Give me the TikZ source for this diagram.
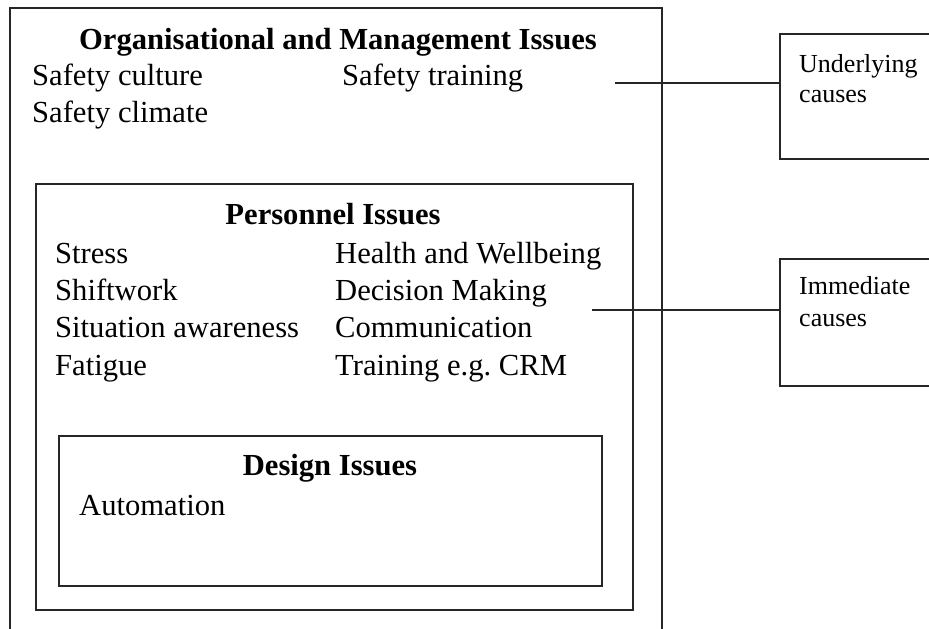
\documentclass[tikz,border=0pt]{standalone}
\usepackage{fontspec}
\setmainfont{Liberation Serif}
\frenchspacing
\begin{document}
\begin{tikzpicture}[x=1pt,y=-1pt,
  frame/.style={draw=black!85,line width=2pt},
  link/.style={draw=black!85,line width=1.8pt},
  head/.style={anchor=base,inner sep=0pt,font=\fontsize{30.6}{36}\selectfont\bfseries},
  item/.style={anchor=base west,inner sep=0pt,font=\fontsize{30.6}{36}\selectfont},
  small/.style={anchor=base west,inner sep=0pt,font=\fontsize{26}{32}\selectfont}]
\useasboundingbox (0,0) rectangle (929,629);
% boxes
\draw[frame] (10,640) -- (10,8) -- (662,8) -- (662,640);
\node[draw=black!85,line width=2pt,minimum width=597pt,minimum height=426pt,anchor=north west,inner sep=0pt] (pers) at (35,183) {};
\node[draw=black!85,line width=2pt,minimum width=543pt,minimum height=150pt,anchor=north west,inner sep=0pt] (des) at (58,435) {};
\node[draw=black!85,line width=2pt,minimum width=180pt,minimum height=125pt,anchor=north west,inner sep=0pt] (under) at (779,33) {};
\node[draw=black!85,line width=2pt,minimum width=180pt,minimum height=127pt,anchor=north west,inner sep=0pt] (imm) at (779,258) {};
% texts
\node[head] (org) at (338,49) {Organisational and Management Issues};
\node[item] (sc) at (32,85) {Safety culture};
\node[item] (st) at (342,85) {Safety training};
\node[item] (scl) at (32,122) {Safety climate};
\node[head] (pi) at (333,224) {Personnel Issues};
\node[item] (s1) at (55,263) {Stress};
\node[item] (s2) at (55,300) {Shiftwork};
\node[item] (s3) at (55,337) {Situation awareness};
\node[item] (s4) at (55,375) {Fatigue};
\node[item] (h1) at (335,263) {Health and Wellbeing};
\node[item] (h2) at (335,300) {Decision Making};
\node[item] (h3) at (335,337) {Communication};
\node[item] (h4) at (335,375) {Training e.g. CRM};
\node[head] (di) at (330,475) {Design Issues};
\node[item] (au) at (79,515) {Automation};
\node[small] (u1) at (799,72) {Underlying};
\node[small] (u2) at (799,102) {causes};
\node[small] (i1) at (799,294) {Immediate};
\node[small] (i2) at (799,326) {causes};
% connectors
\coordinate (ua) at (615,83);
\coordinate (ia) at (592,310);
\draw[link] (ua) -- (ua -| under.west);
\draw[link] (ia) -- (ia -| imm.west);
\end{tikzpicture}
\end{document}
